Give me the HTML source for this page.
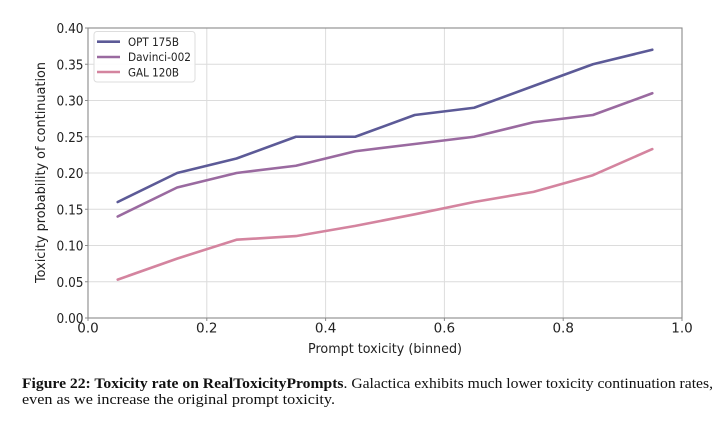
<!DOCTYPE html>
<html>
<head>
<meta charset="utf-8">
<style>
html,body{margin:0;padding:0;background:#fff;}
svg{display:block;}
</style>
</head>
<body>
<svg width="715" height="422" viewBox="0 0 715 422" xmlns="http://www.w3.org/2000/svg">
<rect width="715" height="422" fill="#fff"/>
<!-- grid -->
<g stroke="#dcdcdc" stroke-width="1">
<line x1="206.8" y1="28" x2="206.8" y2="318"/>
<line x1="325.6" y1="28" x2="325.6" y2="318"/>
<line x1="444.4" y1="28" x2="444.4" y2="318"/>
<line x1="563.2" y1="28" x2="563.2" y2="318"/>
<line x1="88" y1="281.75" x2="682" y2="281.75"/>
<line x1="88" y1="245.5" x2="682" y2="245.5"/>
<line x1="88" y1="209.25" x2="682" y2="209.25"/>
<line x1="88" y1="173" x2="682" y2="173"/>
<line x1="88" y1="136.75" x2="682" y2="136.75"/>
<line x1="88" y1="100.5" x2="682" y2="100.5"/>
<line x1="88" y1="64.25" x2="682" y2="64.25"/>
</g>
<!-- spines -->
<rect x="88" y="28" width="594" height="290" fill="none" stroke="#8a8a8a" stroke-width="1.1"/>
<!-- ticks -->
<g stroke="#8a8a8a" stroke-width="1">
<line x1="88" y1="318" x2="88" y2="321"/>
<line x1="206.8" y1="318" x2="206.8" y2="321"/>
<line x1="325.6" y1="318" x2="325.6" y2="321"/>
<line x1="444.4" y1="318" x2="444.4" y2="321"/>
<line x1="563.2" y1="318" x2="563.2" y2="321"/>
<line x1="682" y1="318" x2="682" y2="321"/>
<line x1="85" y1="318" x2="88" y2="318"/>
<line x1="85" y1="281.75" x2="88" y2="281.75"/>
<line x1="85" y1="245.5" x2="88" y2="245.5"/>
<line x1="85" y1="209.25" x2="88" y2="209.25"/>
<line x1="85" y1="173" x2="88" y2="173"/>
<line x1="85" y1="136.75" x2="88" y2="136.75"/>
<line x1="85" y1="100.5" x2="88" y2="100.5"/>
<line x1="85" y1="64.25" x2="88" y2="64.25"/>
<line x1="85" y1="28" x2="88" y2="28"/>
</g>
<!-- y tick labels -->
<g font-family="DejaVu Sans, Liberation Sans, sans-serif" font-size="13.5" fill="#222">
<text x="56.5" y="323" textLength="27" lengthAdjust="spacingAndGlyphs">0.00</text>
<text x="56.5" y="286.75" textLength="27" lengthAdjust="spacingAndGlyphs">0.05</text>
<text x="56.5" y="250.5" textLength="27" lengthAdjust="spacingAndGlyphs">0.10</text>
<text x="56.5" y="214.25" textLength="27" lengthAdjust="spacingAndGlyphs">0.15</text>
<text x="56.5" y="178" textLength="27" lengthAdjust="spacingAndGlyphs">0.20</text>
<text x="56.5" y="141.75" textLength="27" lengthAdjust="spacingAndGlyphs">0.25</text>
<text x="56.5" y="105.5" textLength="27" lengthAdjust="spacingAndGlyphs">0.30</text>
<text x="56.5" y="69.25" textLength="27" lengthAdjust="spacingAndGlyphs">0.35</text>
<text x="56.5" y="33" textLength="27" lengthAdjust="spacingAndGlyphs">0.40</text>
</g>
<!-- x tick labels -->
<g font-family="DejaVu Sans, Liberation Sans, sans-serif" font-size="13.5" fill="#222" text-anchor="middle">
<text x="88" y="332.5">0.0</text>
<text x="206.8" y="332.5">0.2</text>
<text x="325.6" y="332.5">0.4</text>
<text x="444.4" y="332.5">0.6</text>
<text x="563.2" y="332.5">0.8</text>
<text x="682" y="332.5">1.0</text>
</g>
<!-- axis labels -->
<text x="308" y="353" font-family="DejaVu Sans, Liberation Sans, sans-serif" font-size="13.5" fill="#222" textLength="154" lengthAdjust="spacingAndGlyphs">Prompt toxicity (binned)</text>
<text transform="translate(45,283) rotate(-90)" x="0" y="0" font-family="DejaVu Sans, Liberation Sans, sans-serif" font-size="13.5" fill="#222" textLength="221" lengthAdjust="spacingAndGlyphs">Toxicity probability of continuation</text>
<!-- series -->
<g fill="none" stroke-width="2.6" stroke-linejoin="round" stroke-linecap="round">
<polyline stroke="#d4849f" points="117.7,279.6 177.1,258.6 236.5,239.7 295.9,236.1 355.3,225.9 414.7,214.3 474.1,202 533.5,191.9 592.9,175.2 652.3,149.1"/>
<polyline stroke="#9a6aa0" points="117.7,216.5 177.1,187.5 236.5,173 295.9,165.75 355.3,151.25 414.7,144 474.1,136.75 533.5,122.25 592.9,115 652.3,93.25"/>
<polyline stroke="#5c5a97" points="117.7,202 177.1,173 236.5,158.5 295.9,136.75 355.3,136.75 414.7,115 474.1,107.75 533.5,86 592.9,64.25 652.3,49.75"/>
</g>
<!-- legend -->
<rect x="94" y="31.5" width="101" height="50.5" rx="3" fill="#fff" fill-opacity="0.9" stroke="#dddddd" stroke-width="1"/>
<g stroke-width="2.6" stroke-linecap="butt">
<line x1="97" y1="41.7" x2="120" y2="41.7" stroke="#5c5a97"/>
<line x1="97" y1="57" x2="120" y2="57" stroke="#9a6aa0"/>
<line x1="97" y1="72" x2="120" y2="72" stroke="#d4849f"/>
</g>
<g font-family="DejaVu Sans, Liberation Sans, sans-serif" font-size="11.5" fill="#222">
<text x="128" y="45.8" textLength="51" lengthAdjust="spacingAndGlyphs">OPT 175B</text>
<text x="128" y="61.2" textLength="63" lengthAdjust="spacingAndGlyphs">Davinci-002</text>
<text x="128" y="76.3" textLength="51" lengthAdjust="spacingAndGlyphs">GAL 120B</text>
</g>
<!-- caption -->
<text x="22" y="388" font-family="Liberation Serif, serif" font-size="15" fill="#111" textLength="691" lengthAdjust="spacingAndGlyphs"><tspan font-weight="bold">Figure 22: Toxicity rate on RealToxicityPrompts</tspan>. Galactica exhibits much lower toxicity continuation rates,</text>
<text x="22" y="404" font-family="Liberation Serif, serif" font-size="15" fill="#111" textLength="313" lengthAdjust="spacingAndGlyphs">even as we increase the original prompt toxicity.</text>
</svg>
</body>
</html>
